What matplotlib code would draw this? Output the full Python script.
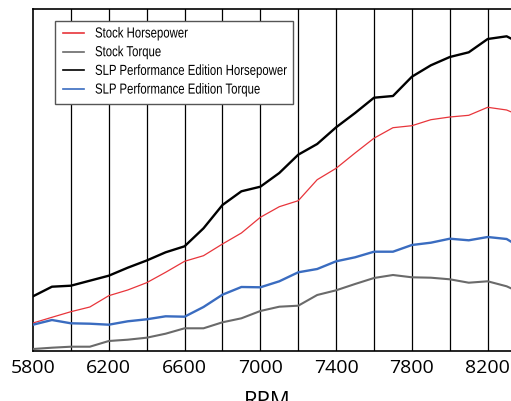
import matplotlib
matplotlib.use("Agg")
import matplotlib.pyplot as plt
from matplotlib.ticker import FixedLocator
from matplotlib.patheffects import AbstractPathEffect
from matplotlib.transforms import Affine2D
from matplotlib.patches import Rectangle
from matplotlib.lines import Line2D

rpm = list(range(5800, 8500, 100))

stock_hp = [28, 33.7, 39.3, 44, 55.3, 61, 68.3, 78.7, 89.7, 95.3, 107, 118, 133.7,
            144.3, 150.3, 171.3, 182.7, 198, 212.8, 223.3, 225.3, 231.3, 234, 235.7,
            243.7, 241, 233]
stock_tq = [2, 3.3, 4.3, 4.3, 10, 11.3, 13.3, 17.3, 22.7, 22.7, 28.7, 32.7, 40,
            44.3, 45.3, 56, 60.7, 67, 73, 76, 73.7, 73.3, 71.7, 68.3, 69.7, 64.7, 56]
slp_hp = [54.7, 64.3, 65.3, 70.3, 75.3, 83.3, 90.5, 98.7, 104.7, 122.7, 146, 159.7,
          164.3, 178, 196.3, 207, 223.7, 238, 253.3, 255, 274.3, 285.7, 294, 298.7,
          312, 314.7, 305]
slp_tq = [26.3, 31, 27.7, 27.3, 26.3, 29.7, 31.7, 34.7, 34.3, 44, 56.3, 64, 63.7,
          69.7, 78.7, 82, 89.7, 93.7, 99.3, 99.3, 106, 108.3, 112.3, 110.7, 114, 112,
          100.6]

labels = ["Stock Horsepower", "Stock Torque",
          "SLP Performance Edition Horsepower", "SLP Performance Edition Torque"]
colors = ["#e8353b", "#6a6a6a", "black", "#3a6cc0"]
widths = [0.9, 1.5, 1.7, 1.7]
tick_vals = [5800, 6200, 6600, 7000, 7400, 7800, 8200]
grid_vals = list(range(6000, 8400, 200))


class Squash(AbstractPathEffect):
    """Draw text horizontally condensed (narrow font look)."""
    def __init__(self, sx):
        super().__init__()
        self.sx = sx

    def draw_path(self, renderer, gc, tpath, affine, rgbFace=None):
        renderer.draw_path(gc, tpath, Affine2D().scale(self.sx, 1) + affine, rgbFace)


W, H = 511, 402
fig = plt.figure(figsize=(W / 100, H / 100), dpi=100)
left, bottom, top = 33, 352, 10
ax = fig.add_axes([left / W, (H - bottom) / H, 1 - left / W + 0.01, (bottom - top) / H])

for g in grid_vals:
    ax.axvline(g, color="black", lw=0.9, zorder=1)

series = [stock_hp, stock_tq, slp_hp, slp_tq]
for ys, c, w, lab in zip(series, colors, widths, labels):
    ax.plot(rpm, ys, color=c, lw=w, label=lab, zorder=3)

ax.set_xlim(5800, 8350)
ax.set_ylim(0, 342)
ax.xaxis.set_major_locator(FixedLocator(tick_vals))
ax.set_yticks([])
ax.tick_params(axis="x", length=0, pad=5)
for lab in ax.get_xticklabels():
    lab.set_fontfamily("Open Sans")
    lab.set_fontsize(14)
for s in ["left", "top", "bottom"]:
    ax.spines[s].set_color("black")
    ax.spines[s].set_linewidth(1.2)
ax.spines["right"].set_visible(False)

fig.text(267 / W, (H - 407) / H, "RPM", ha="center", va="baseline",
         fontfamily="Open Sans", fontsize=16)


def fx(px):
    return px / W


def fy(py):
    return 1 - py / H


# legend drawn in figure pixel positions
box = Rectangle((fx(55), fy(105)), fx(293) - fx(55), fy(22) - fy(105),
                transform=fig.transFigure, facecolor="white", edgecolor="#555555",
                linewidth=1.0, zorder=10)
fig.add_artist(box)
baselines = [38.5, 57.2, 75.9, 94.6]
for lab, c, b in zip(labels, colors, baselines):
    ly = b - 4.5
    fig.add_artist(Line2D([fx(63), fx(84)], [fy(ly), fy(ly)], color=c, lw=1.2,
                          transform=fig.transFigure, zorder=11))
    fig.text(fx(95), fy(b), lab, ha="left", va="baseline", fontsize=10.5,
             fontfamily="Liberation Sans", color="black", zorder=11,
             path_effects=[Squash(0.78)])

fig.savefig("out.png", dpi=100)
